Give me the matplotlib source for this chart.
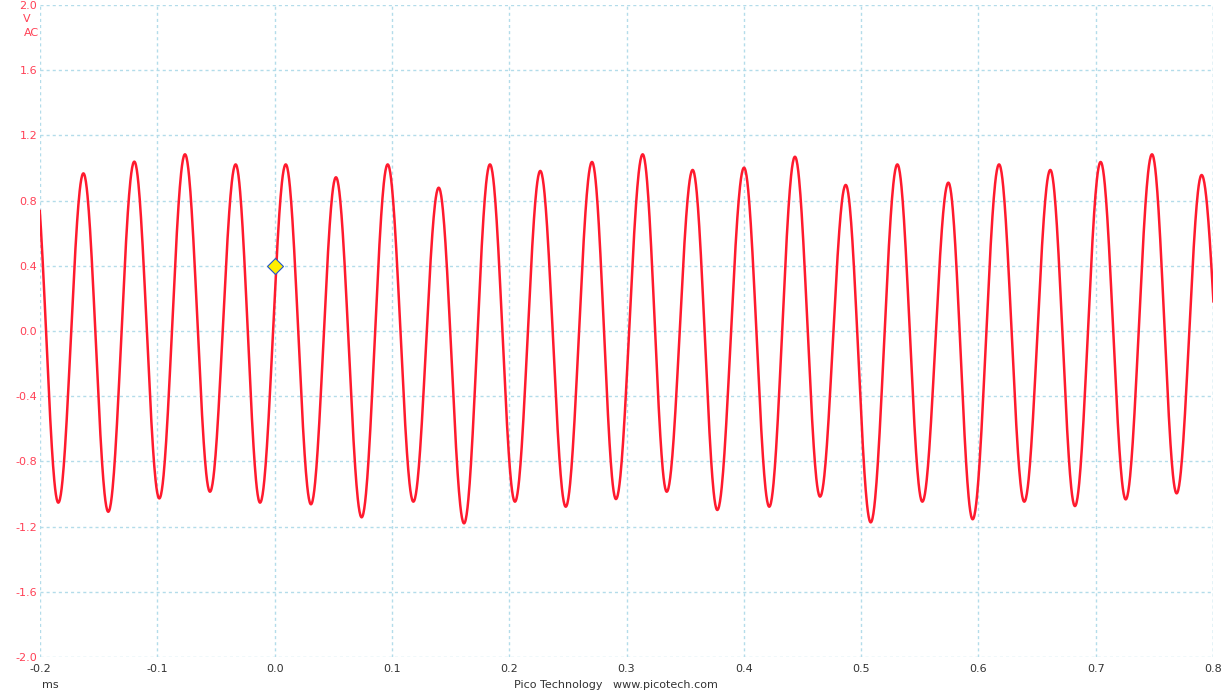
import numpy as np
import matplotlib.pyplot as plt

plt.rcParams['axes.unicode_minus'] = False
plt.rcParams['font.family'] = ['DejaVu Sans']

# extrema (time in ms, volts)
peak_t = [-0.205, -0.163, -0.1196, -0.0764, -0.0332, 0.0095, 0.0523, 0.0964, 0.1399,
          0.1836, 0.2265, 0.2706, 0.3138, 0.3564, 0.4002, 0.4436, 0.4869, 0.5309,
          0.5744, 0.6176, 0.6613, 0.7042, 0.7480, 0.7903]
peak_v = [1.00, 0.967, 1.039, 1.084, 1.022, 1.022, 0.943, 1.022, 0.879,
          1.022, 0.982, 1.037, 1.084, 0.988, 1.002, 1.069, 0.896, 1.022,
          0.910, 1.022, 0.988, 1.037, 1.084, 0.957]
trough_t = [-0.1844, -0.1418, -0.0983, -0.0551, -0.0124, 0.0310, 0.0742, 0.1183,
            0.1615, 0.2049, 0.2482, 0.2910, 0.3343, 0.3774, 0.4217, 0.4650,
            0.5082, 0.5522, 0.5951, 0.6391, 0.6823, 0.7256, 0.7690, 0.8135]
trough_v = [-1.053, -1.109, -1.027, -0.986, -1.053, -1.063, -1.143, -1.047,
            -1.180, -1.047, -1.078, -1.031, -0.986, -1.098, -1.078, -1.016,
            -1.174, -1.047, -1.155, -1.047, -1.074, -1.033, -0.996, -1.00]

marker_t = [0.0]
marker_v = [0.4]

x_ticks = [-0.2, -0.1, 0.0, 0.1, 0.2, 0.3, 0.4, 0.5, 0.6, 0.7, 0.8]
y_ticks = [-2.0, -1.6, -1.2, -0.8, -0.4, 0.0, 0.4, 0.8, 1.2, 1.6, 2.0]

# merge extrema and join them with half cosines
ext_t = np.array(peak_t + trough_t)
ext_v = np.array(peak_v + trough_v)
order = np.argsort(ext_t)
ext_t, ext_v = ext_t[order], ext_v[order]

t_all, v_all = [], []
for i in range(len(ext_t) - 1):
    s = np.linspace(0, 1, 60, endpoint=False)
    t_all.append(ext_t[i] + s * (ext_t[i + 1] - ext_t[i]))
    a, b = ext_v[i], ext_v[i + 1]
    v_all.append((a + b) / 2 + (a - b) / 2 * np.cos(np.pi * s))
t_all = np.concatenate(t_all)
v_all = np.concatenate(v_all)

fig = plt.figure(figsize=(12.3, 6.91), dpi=100)
ax = fig.add_axes([40 / 1230, 1 - 657 / 691, 1173 / 1230, 652 / 691])

red = '#ff1a2e'
ax.plot(t_all, v_all, color=red, linewidth=1.8, zorder=3)
ax.plot(marker_t, marker_v, marker='D', markersize=8, markerfacecolor='#ffee00',
        markeredgecolor='#2255cc', markeredgewidth=0.8, linestyle='none', zorder=4)

ax.set_xlim(-0.2, 0.8)
ax.set_ylim(-2.0, 2.0)
ax.set_xticks(x_ticks)
ax.set_yticks(y_ticks)
ax.set_xticklabels([f"{v:.1f}" for v in x_ticks])
ax.set_yticklabels([f"{v:.1f}" for v in y_ticks])
ax.tick_params(axis='both', length=0, labelsize=8)
ax.tick_params(axis='y', colors='#ff4055', pad=2)
ax.tick_params(axis='x', colors='#333333', pad=5)
grid_style = dict(color='#b3dcea', linestyle=(0, (2.2, 2.2)), linewidth=1.0)
ax.grid(True, **grid_style)
for sp in ax.spines.values():
    sp.set_visible(False)
ax.axvline(0.8, zorder=1, **grid_style)

fig.text(27 / 1230, 1 - 19 / 691, "V", color='#ff4055', fontsize=8, ha='center', va='center')
fig.text(31 / 1230, 1 - 33 / 691, "AC", color='#ff4055', fontsize=8, ha='center', va='center')
fig.text(50 / 1230, 1 - 685 / 691, "ms", color='#333333', fontsize=8, ha='center', va='center')
fig.text(616 / 1230, 1 - 685 / 691, "Pico Technology   www.picotech.com", color='#333333',
         fontsize=8, ha='center', va='center')

fig.savefig("out.png", dpi=100)
